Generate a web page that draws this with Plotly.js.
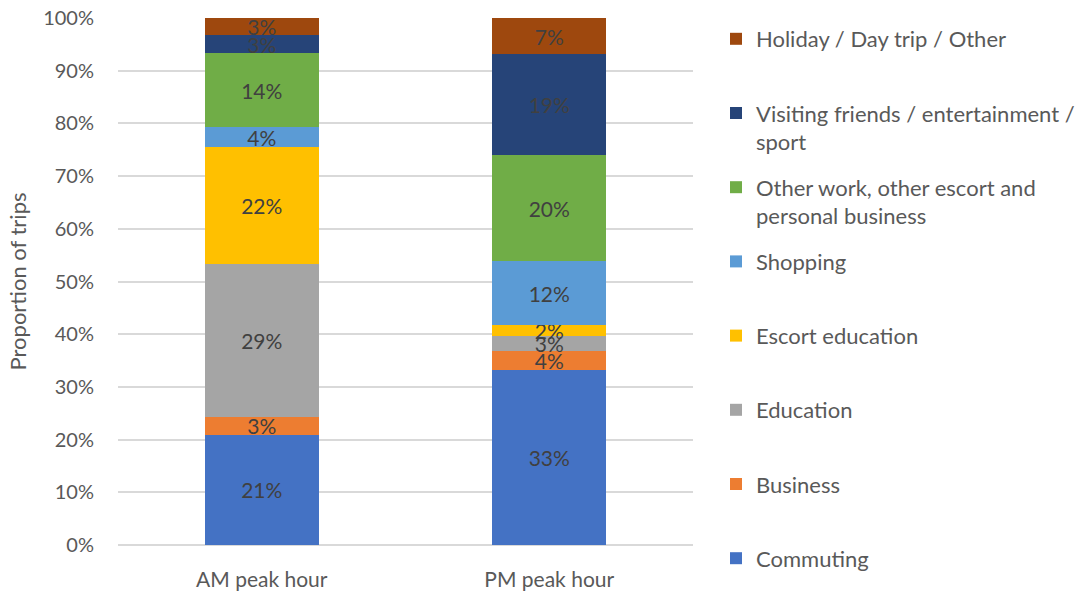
<!DOCTYPE html>
<html>
<head>
<meta charset="utf-8">
<script src="https://cdn.plot.ly/plotly-3.0.1.min.js"></script>
<style>
  html, body { margin: 0; padding: 0; background: #fff; }
  #chart { width: 1079px; height: 592px; }
</style>
</head>
<body>
<div id="chart"></div>
<script>
// time periods on the x axis
var periods = ['AM peak hour', 'PM peak hour'];

// trip purposes, bottom of the stack first
var purposes = [
  'Commuting',
  'Business',
  'Education',
  'Escort education',
  'Shopping',
  'Other work, other escort and<br>personal business',
  'Visiting friends / entertainment /<br>sport',
  'Holiday / Day trip / Other'
];

// share of trips (%)
var commuting = [20.95, 33.3];
var business = [3.3, 3.5];
var education = [29.0, 2.85];
var escortEducation = [22.25, 2.05];
var shopping = [3.75, 12.15];
var otherWork = [14.15, 20.1];
var visiting = [3.3, 19.15];
var holiday = [3.3, 6.9];

var seriesValues = [commuting, business, education, escortEducation, shopping, otherWork, visiting, holiday];
var colors = ['#4472C4', '#ED7D31', '#A5A5A5', '#FFC000', '#5B9BD5', '#70AD47', '#264478', '#9E480E'];

var font = 'Lato, "Open Sans", sans-serif';

var data = [];
purposes.forEach(function (name, i) {
  // one-line entries get a blank second line so the legend rows are evenly spaced
  // (the bottom entry, Commuting, does not need it)
  var label = (name.indexOf('<br>') < 0 && i > 0) ? name + '<br>&nbsp;' : name;
  data.push({
    type: 'bar',
    x: periods,
    y: seriesValues[i],
    name: label,
    legendgroup: 'g' + i,
    legendrank: 100 - i,
    marker: {color: colors[i], line: {width: 0}},
    texttemplate: '%{y:.0f}%',
    textposition: 'inside',
    insidetextanchor: 'middle',
    constraintext: 'none',
    textfont: {family: font, size: 21, color: '#404040'},
    hoverinfo: 'x+y+name'
  });
});

var layout = {
  width: 1079,
  height: 592,
  barmode: 'stack',
  bargap: 0.604,
  paper_bgcolor: '#ffffff',
  plot_bgcolor: '#ffffff',
  margin: {l: 118, r: 386, t: 18, b: 47, autoexpand: false},
  font: {family: font, color: '#595959'},
  xaxis: {
    showgrid: false,
    showline: false,
    zeroline: false,
    ticks: 'outside',
    ticklen: 16,
    tickcolor: 'rgba(0,0,0,0)',
    tickfont: {size: 21, color: '#595959'}
  },
  yaxis: {
    range: [0, 100],
    dtick: 10,
    ticksuffix: '%',
    showgrid: true,
    gridcolor: '#d9d9d9',
    gridwidth: 1.5,
    zeroline: true,
    zerolinecolor: '#d9d9d9',
    zerolinewidth: 1.5,
    ticks: 'outside',
    ticklen: 19,
    tickcolor: 'rgba(0,0,0,0)',
    tickfont: {size: 20, color: '#595959'},
    title: {text: 'Proportion of trips', font: {size: 22, color: '#595959'}, standoff: 10}
  },
  showlegend: true,
  legend: {
    x: 1.04,
    xanchor: 'left',
    y: 1.0,
    yanchor: 'top',
    traceorder: 'grouped',
    tracegroupgap: 14,
    valign: 'top',
    maxheight: 590,
    font: {size: 22, color: '#595959'},
    bgcolor: 'rgba(0,0,0,0)'
  }
};

Plotly.newPlot('chart', data, layout, {displayModeBar: false});
</script>
</body>
</html>
